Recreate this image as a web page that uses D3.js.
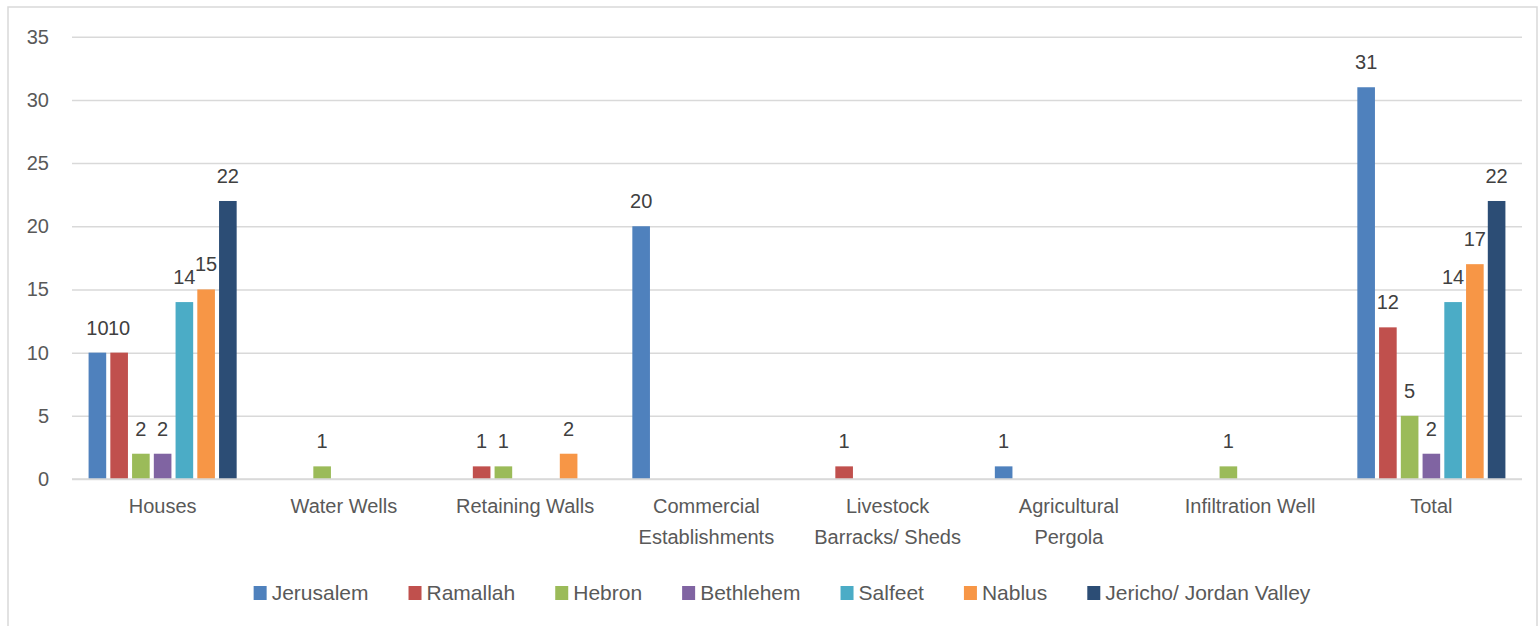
<!DOCTYPE html>
<html>
<head>
<meta charset="utf-8">
<script src="https://cdn.jsdelivr.net/npm/d3@7"></script>
<style>
  body { margin: 0; background: #fff; }
  text { font-family: "Liberation Sans", Arial, sans-serif; fill: #595959; }
</style>
</head>
<body>
<script>
// categories and series
const categories = ["Houses", "Water Wells", "Retaining Walls", "Commercial Establishments",
  "Livestock Barracks/ Sheds", "Agricultural Pergola", "Infiltration Well", "Total"];
const seriesNames = ["Jerusalem", "Ramallah", "Hebron", "Bethlehem", "Salfeet", "Nablus", "Jericho/ Jordan Valley"];
const seriesColors = ["#4F81BD", "#C0504D", "#9BBB59", "#8064A2", "#4BACC6", "#F79646", "#2C4D75"];

const jerusalem = [10, 0, 0, 20, 0, 1, 0, 31];
const ramallah  = [10, 0, 1, 0, 1, 0, 0, 12];
const hebron    = [2, 1, 1, 0, 0, 0, 1, 5];
const bethlehem = [2, 0, 0, 0, 0, 0, 0, 2];
const salfeet   = [14, 0, 0, 0, 0, 0, 0, 14];
const nablus    = [15, 0, 2, 0, 0, 0, 0, 17];
const jericho   = [22, 0, 0, 0, 0, 0, 0, 22];
const yTicks = [0, 5, 10, 15, 20, 25, 30, 35];

const seriesValues = [jerusalem, ramallah, hebron, bethlehem, salfeet, nablus, jericho];

const W = 1539, H = 626;
const plotL = 72, plotR = 1522, plotT = 36.7, plotB = 479;

const svg = d3.select("body").append("svg")
  .attr("width", W)
  .attr("height", H);

// outer chart border
svg.append("rect")
  .attr("x", 8).attr("y", 7)
  .attr("width", 1529).attr("height", 640)
  .attr("fill", "none")
  .attr("stroke", "#d9d9d9")
  .attr("stroke-width", 1.5);

const x0 = d3.scaleBand()
  .domain(categories)
  .range([plotL, plotR])
  .paddingInner(0.183)
  .paddingOuter(0.0915);

const x1 = d3.scaleBand()
  .domain(seriesNames)
  .range([0, x0.bandwidth()])
  .paddingInner(0.19);

const y = d3.scaleLinear()
  .domain([0, 35])
  .range([plotB, plotT]);

// gridlines + y labels
const yAxis = d3.axisLeft(y).tickValues(yTicks).tickSize(-(plotR - plotL)).tickPadding(23);
const gy = svg.append("g")
  .attr("transform", "translate(" + plotL + ",0)")
  .call(yAxis);
gy.select(".domain").remove();
gy.selectAll("line").attr("stroke", "#d9d9d9").attr("stroke-width", 1.5);
gy.selectAll("text").style("font-size", "20px").attr("fill", "#595959");

// bars
const groups = svg.selectAll("g.series")
  .data(seriesNames)
  .enter()
  .append("g")
  .attr("class", "series")
  .attr("fill", (d, i) => seriesColors[i]);

const rows = (d, i) => categories.map((c, j) => ({ cat: c, s: d, v: seriesValues[i][j] })).filter(e => e.v > 0);

groups.selectAll("rect")
  .data(rows)
  .enter()
  .append("rect")
  .attr("x", d => x0(d.cat) + x1(d.s))
  .attr("y", d => y(d.v))
  .attr("width", x1.bandwidth())
  .attr("height", d => y(0) - y(d.v));

// data labels
groups.selectAll("text")
  .data(rows)
  .enter()
  .append("text")
  .attr("x", d => x0(d.cat) + x1(d.s) + x1.bandwidth() / 2)
  .attr("y", d => y(d.v) - 18)
  .attr("text-anchor", "middle")
  .style("font-size", "20px")
  .style("fill", "#404040")
  .text(d => d.v);

// x axis
const xAxis = d3.axisBottom(x0).tickSize(0).tickPadding(20);
const gx = svg.append("g")
  .attr("transform", "translate(0," + plotB + ")")
  .call(xAxis);
gx.select(".domain").attr("stroke", "#d9d9d9").attr("stroke-width", 1.5)
  .attr("d", "M" + plotL + ",0H" + plotR);
gx.selectAll("text").style("font-size", "20px").attr("fill", "#595959")
  .each(function (d) {
    const t = d3.select(this);
    const words = d.split(" ");
    t.text(null);
    let lines = [], line = [];
    let probe = t.append("tspan");
    words.forEach(w => {
      line.push(w);
      probe.text(line.join(" "));
      if (probe.node().getComputedTextLength() > 165 && line.length > 1) {
        line.pop();
        lines.push(line.join(" "));
        line = [w];
      }
    });
    lines.push(line.join(" "));
    probe.remove();
    lines.forEach((l, i) => {
      t.append("tspan").attr("x", 0).attr("dy", i === 0 ? "0.71em" : "31px").text(l);
    });
  });

// legend
const legend = svg.append("g").attr("class", "legend");
let lx = 0;
seriesNames.forEach((name, i) => {
  const item = legend.append("g").attr("transform", "translate(" + lx + ",0)");
  item.append("rect")
    .attr("x", 0).attr("y", -14)
    .attr("width", 13).attr("height", 14)
    .attr("fill", seriesColors[i]);
  const t = item.append("text")
    .attr("x", 18).attr("y", 0)
    .style("font-size", "21px")
    .text(name);
  lx += 18 + t.node().getComputedTextLength() + 40;
});
const legendWidth = lx - 40;
legend.attr("transform", "translate(" + (782 - legendWidth / 2) + ",600)");
</script>
</body>
</html>
